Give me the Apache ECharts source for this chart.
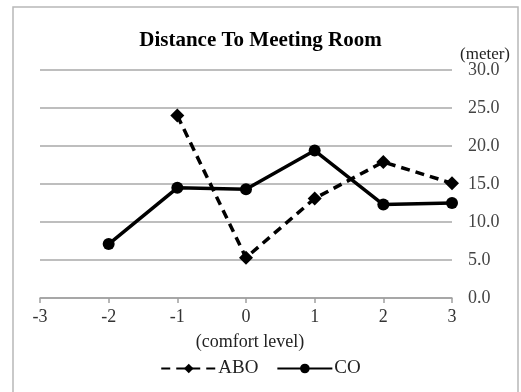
<!DOCTYPE html>
<html><head><meta charset="utf-8">
<script src="https://cdn.jsdelivr.net/npm/echarts@6/dist/echarts.min.js"></script>
<style>html,body{margin:0;padding:0;background:#fff}#c{width:521px;height:392px}</style>
</head><body><div id="c"></div>
<script>
const comfortLevels = [-3, -2, -1, 0, 1, 2, 3];
const aboX = [-1, 0, 1, 2, 3];
const aboValues = [24.0, 5.3, 13.1, 17.9, 15.1];
const coX = [-2, -1, 0, 1, 2, 3];
const coValues = [7.1, 14.5, 14.3, 19.4, 12.3, 12.5];
const yTicks = [0, 5, 10, 15, 20, 25, 30];

const font = 'Liberation Serif';
const chart = echarts.init(document.getElementById('c'), null, {renderer: 'canvas'});
chart.setOption({
  backgroundColor: '#fff',
  animation: false,
  graphic: [{
    type: 'rect', shape: {x: 13, y: 7, width: 505, height: 400},
    style: {fill: 'none', stroke: '#b8b8b8', lineWidth: 1.5}, z: 0
  }],
  title: [
    {text: 'Distance To Meeting Room', left: 'center', top: 25,
     textStyle: {fontFamily: font, fontSize: 21, fontWeight: 'bold', color: '#000'}},
    {text: '(meter)', left: 455, top: 41,
     textStyle: {fontFamily: font, fontSize: 17, fontWeight: 'normal', color: '#222'}}
  ],
  legend: {
    bottom: 9, left: 'center', itemWidth: 55, itemHeight: 12, itemGap: 18,
    textStyle: {fontFamily: font, fontSize: 19, color: '#222', padding: [0,0,0,-3]},
    data: ['ABO', 'CO']
  },
  grid: {left: 40, right: 69, top: 70, bottom: 94},
  xAxis: {
    type: 'value', min: comfortLevels[0], max: comfortLevels[comfortLevels.length-1], interval: 1,
    name: '(comfort level)', nameLocation: 'middle', nameGap: 35,
    nameTextStyle: {fontFamily: font, fontSize: 18, color: '#222', padding: [0,0,0,8]},
    axisLine: {show: true, lineStyle: {color: '#a0a0a0', width: 1.5}},
    axisTick: {show: true, inside: false, length: 5, lineStyle: {color: '#a0a0a0', width: 1.5}},
    axisLabel: {fontFamily: font, fontSize: 18, color: '#333', margin: 10},
    splitLine: {show: false}
  },
  yAxis: {
    type: 'value', position: 'right', min: yTicks[0], max: yTicks[yTicks.length-1], interval: 5,
    axisLine: {show: false}, axisTick: {show: false},
    axisLabel: {fontFamily: font, fontSize: 18, color: '#444', margin: 16,
      formatter: v => v.toFixed(1), padding: [3,0,0,0]},
    splitLine: {show: true, lineStyle: {color: '#a8a8a8', width: 1.5}}
  },
  series: [
    {name: 'ABO', type: 'line', data: aboX.map((x, i) => [x, aboValues[i]]),
     symbol: 'diamond', symbolSize: 14,
     itemStyle: {color: '#000'}, lineStyle: {color: '#000', width: 3.5, type: [9, 6]}},
    {name: 'CO', type: 'line', data: coX.map((x, i) => [x, coValues[i]]),
     symbol: 'circle', symbolSize: 12,
     itemStyle: {color: '#000'}, lineStyle: {color: '#000', width: 3.5}}
  ]
});
</script></body></html>
